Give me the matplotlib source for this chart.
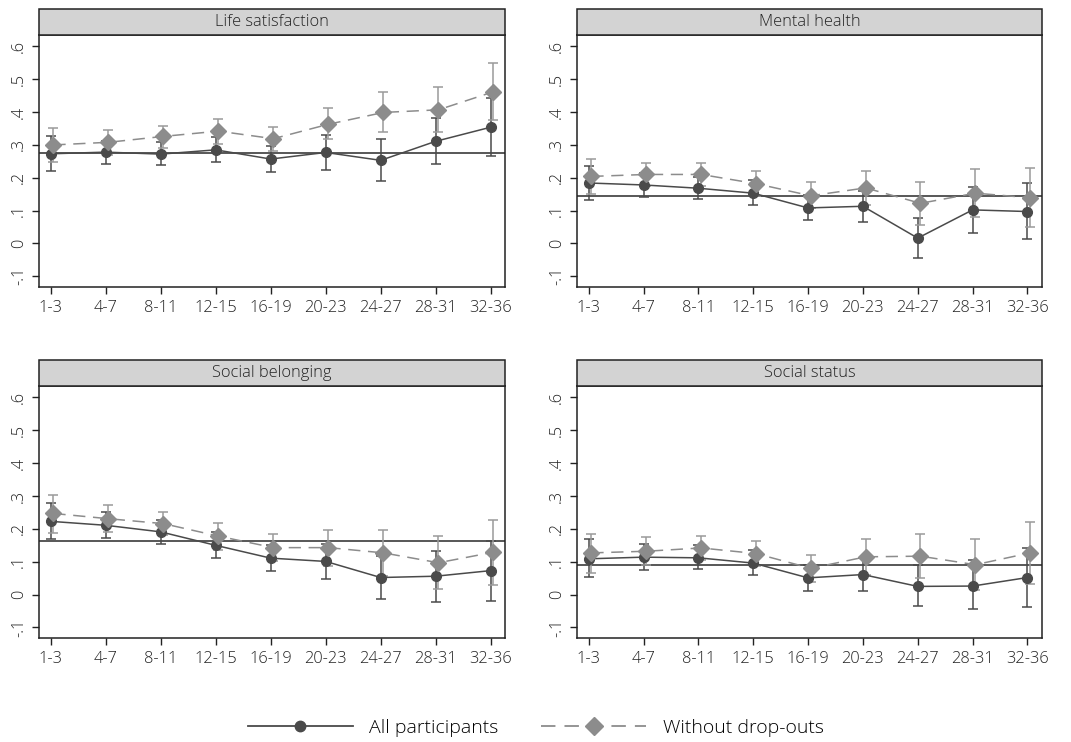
import matplotlib
matplotlib.use("Agg")
import matplotlib.pyplot as plt
from matplotlib.patches import Rectangle
from matplotlib.lines import Line2D
import numpy as np

plt.rcParams['font.family'] = ['Open Sans', 'DejaVu Sans']

periods = ["1-3", "4-7", "8-11", "12-15", "16-19", "20-23", "24-27", "28-31", "32-36"]
titles = ["Life satisfaction", "Mental health", "Social belonging", "Social status"]

# All participants: estimate, lower CI, upper CI
all_est = [
    [0.273, 0.278, 0.272, 0.285, 0.257, 0.277, 0.253, 0.311, 0.354],
    [0.184, 0.178, 0.168, 0.153, 0.108, 0.113, 0.016, 0.102, 0.097],
    [0.223, 0.211, 0.191, 0.150, 0.111, 0.101, 0.052, 0.056, 0.073],
    [0.109, 0.114, 0.112, 0.096, 0.051, 0.061, 0.025, 0.026, 0.052],
]
all_lo = [
    [0.222, 0.243, 0.239, 0.247, 0.218, 0.225, 0.189, 0.241, 0.266],
    [0.132, 0.142, 0.134, 0.117, 0.070, 0.064, -0.045, 0.031, 0.012],
    [0.168, 0.173, 0.155, 0.112, 0.071, 0.048, -0.013, -0.021, -0.020],
    [0.053, 0.076, 0.077, 0.059, 0.011, 0.010, -0.036, -0.044, -0.037],
]
all_hi = [
    [0.326, 0.312, 0.308, 0.323, 0.297, 0.329, 0.317, 0.382, 0.444],
    [0.236, 0.214, 0.202, 0.193, 0.146, 0.161, 0.078, 0.172, 0.184],
    [0.280, 0.252, 0.226, 0.191, 0.150, 0.155, 0.117, 0.133, 0.164],
    [0.168, 0.155, 0.150, 0.135, 0.091, 0.112, 0.089, 0.104, 0.143],
]
# Without drop-outs
wd_est = [
    [0.300, 0.308, 0.326, 0.342, 0.319, 0.363, 0.399, 0.407, 0.462],
    [0.204, 0.210, 0.210, 0.182, 0.145, 0.169, 0.122, 0.153, 0.139],
    [0.247, 0.231, 0.216, 0.178, 0.143, 0.143, 0.127, 0.097, 0.129],
    [0.127, 0.132, 0.142, 0.125, 0.080, 0.115, 0.117, 0.091, 0.127],
]
wd_lo = [
    [0.247, 0.270, 0.292, 0.304, 0.280, 0.317, 0.338, 0.338, 0.375],
    [0.150, 0.174, 0.176, 0.143, 0.108, 0.118, 0.055, 0.080, 0.049],
    [0.189, 0.191, 0.181, 0.137, 0.102, 0.088, 0.057, 0.017, 0.030],
    [0.067, 0.091, 0.105, 0.087, 0.039, 0.059, 0.050, 0.014, 0.031],
]
wd_hi = [
    [0.353, 0.345, 0.358, 0.379, 0.355, 0.412, 0.462, 0.476, 0.551],
    [0.257, 0.246, 0.244, 0.220, 0.187, 0.220, 0.187, 0.227, 0.230],
    [0.304, 0.273, 0.252, 0.218, 0.186, 0.198, 0.196, 0.178, 0.226],
    [0.186, 0.174, 0.178, 0.162, 0.121, 0.169, 0.184, 0.169, 0.222],
]
ref_lines = [0.276, 0.145, 0.162, 0.090]

yticks = [-0.1, 0, 0.1, 0.2, 0.3, 0.4, 0.5, 0.6]
ytick_labels = ["-.1", "0", ".1", ".2", ".3", ".4", ".5", ".6"]

dark = "#4a4a4a"
gray = "#8c8c8c"
gray_ci = "#9a9a9a"
txt = "#222222"

W, H = 1071, 742
fig = plt.figure(figsize=(W / 100, H / 100), dpi=100)

# pixel boxes: left, right, top (plot), bottom
boxes = [
    (39.3, 505.0, 35.0, 287.0),
    (577.3, 1041.7, 35.0, 287.0),
    (39.3, 505.0, 386.0, 638.3),
    (577.3, 1041.7, 386.0, 638.3),
]
header_px = 26.5
fs = 11.8

x = np.arange(1, len(periods) + 1)
offset = 0.05
for i, (l, r, t, b) in enumerate(boxes):
    ax = fig.add_axes([l / W, 1 - b / H, (r - l) / W, (b - t) / H])
    ax.set_xlim(0.793, 9.26)
    ax.set_ylim(-0.133, 0.635)
    ax.axhline(ref_lines[i], color=dark, lw=1.3, zorder=2)
    ae = np.array(all_est[i])
    ax.errorbar(x, ae, yerr=[ae - np.array(all_lo[i]), np.array(all_hi[i]) - ae],
                fmt='none', ecolor=dark, elinewidth=1.1, capsize=3.8, capthick=1.1, zorder=3)
    ax.plot(x, ae, color=dark, lw=1.1, marker='o', ms=7, mfc=dark, mec=dark, zorder=4)
    we = np.array(wd_est[i])
    ax.errorbar(x + offset, we, yerr=[we - np.array(wd_lo[i]), np.array(wd_hi[i]) - we],
                fmt='none', ecolor=gray_ci, elinewidth=1.1, capsize=3.8, capthick=1.1, zorder=3)
    ax.plot(x + offset, we, color=gray, lw=1.1, ls=(0, (8, 5)), marker='D', ms=8.3, mfc=gray,
            mec=gray, zorder=4)
    ax.set_xticks(x)
    ax.set_xticklabels(periods, fontsize=fs, color=txt, fontweight='light')
    ax.set_yticks(yticks)
    ax.set_yticklabels(ytick_labels, fontsize=fs, rotation=90, va='center', color=txt,
                       fontweight='light')
    ax.tick_params(axis='both', length=5, width=1, color=txt, pad=4)
    for s in ax.spines.values():
        s.set_color(txt)
        s.set_linewidth(1.1)
    hfrac = header_px / (b - t)
    ax.add_patch(Rectangle((0, 1), 1, hfrac, transform=ax.transAxes, facecolor="#d3d3d3",
                           edgecolor=txt, lw=1.1, clip_on=False, zorder=5))
    ax.text(0.5, 1 + hfrac / 2, titles[i], transform=ax.transAxes, ha='center', va='center',
            fontsize=fs, color=txt, fontweight='light', zorder=6)

h1 = Line2D([], [], color=dark, lw=1.3, marker='o', ms=7.5, mfc=dark, mec=dark)
h2 = Line2D([], [], color=gray, lw=1.3, ls=(0, (8, 5)), marker='D', ms=9, mfc=gray, mec=gray)
fig.legend([h1, h2], ["All participants", "Without drop-outs"], loc='center',
           bbox_to_anchor=(0.5, 1 - 728 / H), ncol=2, frameon=False,
           prop={'size': 14, 'weight': 'light'},
           handlelength=5.4, handletextpad=0.85, columnspacing=2.2)

fig.savefig("out.png", dpi=100)
